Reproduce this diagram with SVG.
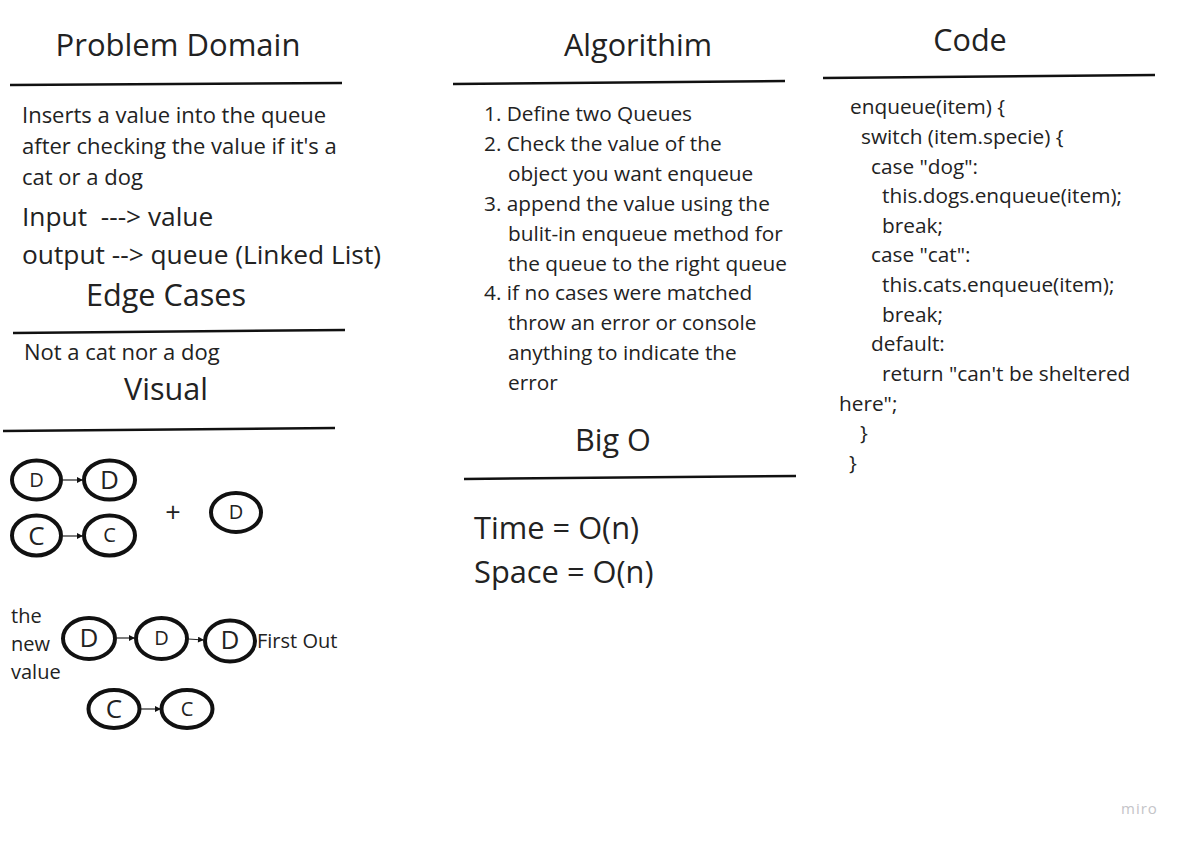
<svg xmlns="http://www.w3.org/2000/svg" width="1186" height="842" viewBox="0 0 1186 842">
<defs>
<style>
text{font-family:"Open Sans","Noto Sans","Liberation Sans",sans-serif;fill:#222;white-space:pre}
.h{font-size:30.6px}
.b{font-size:20.8px}
.v{font-size:20px}
.p{font-size:22px}
.io{font-size:26.3px}
.big{font-size:30.8px}
.rule{stroke:#111;stroke-width:2.5;fill:none}
.node ellipse{fill:#fff;stroke:#111;stroke-width:4}
.node text{text-anchor:middle;dominant-baseline:central}
.s{font-size:20px}
.l{font-size:26px}
.edge{stroke:#222;stroke-width:1.2;fill:none;marker-end:url(#ah)}
.miro{font-size:15px;fill:#c4c4c8;letter-spacing:1px}
</style>
<marker id="ah" viewBox="0 0 10 10" refX="10" refY="5" markerWidth="9" markerHeight="6" markerUnits="userSpaceOnUse" orient="auto"><path d="M0,0L10,5L0,10z" fill="#111"/></marker>
</defs>
<rect width="1186" height="842" fill="#fff"/>

<g id="problem-domain">
<text class="h" x="178" y="56" text-anchor="middle" style="font-size:31px">Problem Domain</text>
<line class="rule" x1="10" y1="85" x2="342" y2="83"/>
<text class="p" x="22" y="123">Inserts a value into the queue</text>
<text class="p" x="22" y="154">after checking the value if it's a</text>
<text class="p" x="22" y="185">cat or a dog</text>
<text class="io" x="22" y="226">Input  ---&gt; value</text>
<text class="io" x="22" y="264">output --&gt; queue (Linked List)</text>
</g>

<g id="edge-cases">
<text class="h" x="166" y="306" text-anchor="middle">Edge Cases</text>
<line class="rule" x1="13" y1="333" x2="345" y2="330"/>
<text class="p" x="24" y="360">Not a cat nor a dog</text>
</g>

<g id="visual">
<text class="h" x="166" y="400" text-anchor="middle">Visual</text>
<line class="rule" x1="3" y1="431" x2="335" y2="428"/>
<text x="173" y="522" font-size="27" text-anchor="middle">+</text>
<text class="v" x="11" y="623">the</text>
<text class="v" x="11" y="651">new</text>
<text class="v" x="11" y="679">value</text>
<text class="v" x="257" y="648">First Out</text>
</g>

<g id="n1" class="node"><ellipse cx="36.5" cy="480" rx="24.5" ry="19.5"/><text class="s" x="36.5" y="479">D</text></g>
<g id="n2" class="node"><ellipse cx="109.5" cy="480" rx="25.5" ry="19.5"/><text class="l" x="109.5" y="479">D</text></g>
<g id="n3" class="node"><ellipse cx="36.5" cy="535.5" rx="24.5" ry="20"/><text class="l" x="36.5" y="535">C</text></g>
<g id="n4" class="node"><ellipse cx="109.5" cy="535.5" rx="25.5" ry="20"/><text class="s" x="109.5" y="534">C</text></g>
<g id="n5" class="node"><ellipse cx="236" cy="512.5" rx="25" ry="19.5"/><text class="s" x="236" y="511">D</text></g>
<g id="n6" class="node"><ellipse cx="89" cy="638.5" rx="26" ry="20.5"/><text class="l" x="89" y="637">D</text></g>
<g id="n7" class="node"><ellipse cx="161.5" cy="638.5" rx="25.5" ry="20.5"/><text class="s" x="161.5" y="637">D</text></g>
<g id="n8" class="node"><ellipse cx="230" cy="641" rx="25" ry="20.5"/><text class="l" x="230" y="639">D</text></g>
<g id="n9" class="node"><ellipse cx="114" cy="709" rx="25.5" ry="19"/><text class="l" x="114" y="708">C</text></g>
<g id="n10" class="node"><ellipse cx="187" cy="709" rx="25.5" ry="19"/><text class="s" x="187" y="708">C</text></g>

<g id="connectors">
<line class="edge" x1="62" y1="480" x2="83" y2="480"/>
<line class="edge" x1="62" y1="536" x2="83" y2="536"/>
<line class="edge" x1="116" y1="638" x2="135" y2="638"/>
<line class="edge" x1="188" y1="639" x2="204" y2="640"/>
<line class="edge" x1="141" y1="709" x2="161" y2="709"/>
</g>

<g id="algorithm">
<text class="h" x="638" y="56" text-anchor="middle">Algorithim</text>
<line class="rule" x1="453" y1="84" x2="785" y2="81"/>
<text class="b" x="484" y="121">1. Define two Queues</text>
<text class="b" x="484" y="151">2. Check the value of the</text>
<text class="b" x="508" y="181">object you want enqueue</text>
<text class="b" x="484" y="211">3. append the value using the</text>
<text class="b" x="508" y="241">bulit-in enqueue method for</text>
<text class="b" x="508" y="271">the queue to the right queue</text>
<text class="b" x="484" y="300">4. if no cases were matched</text>
<text class="b" x="508" y="330">throw an error or console</text>
<text class="b" x="508" y="360">anything to indicate the</text>
<text class="b" x="508" y="390">error</text>
</g>

<g id="big-o">
<text class="h" x="613" y="451" text-anchor="middle">Big O</text>
<line class="rule" x1="464" y1="479" x2="796" y2="476"/>
<text class="big" x="474" y="539">Time = O(n)</text>
<text class="big" x="474" y="583">Space = O(n)</text>
</g>

<g id="code">
<text class="h" x="970" y="51" text-anchor="middle">Code</text>
<line class="rule" x1="823" y1="78" x2="1155" y2="75"/>
<text class="b" x="850" y="114">enqueue(item) {</text>
<text class="b" x="861" y="144">switch (item.specie) {</text>
<text class="b" x="871" y="174">case "dog":</text>
<text class="b" x="882" y="203">this.dogs.enqueue(item);</text>
<text class="b" x="882" y="233">break;</text>
<text class="b" x="871" y="262">case "cat":</text>
<text class="b" x="882" y="292">this.cats.enqueue(item);</text>
<text class="b" x="882" y="322">break;</text>
<text class="b" x="871" y="351">default:</text>
<text class="b" x="882" y="381">return "can't be sheltered</text>
<text class="b" x="839" y="411">here";</text>
<text class="b" x="860" y="440">}</text>
<text class="b" x="849" y="470">}</text>
</g>

<text class="miro" x="1121" y="814">miro</text>
</svg>
